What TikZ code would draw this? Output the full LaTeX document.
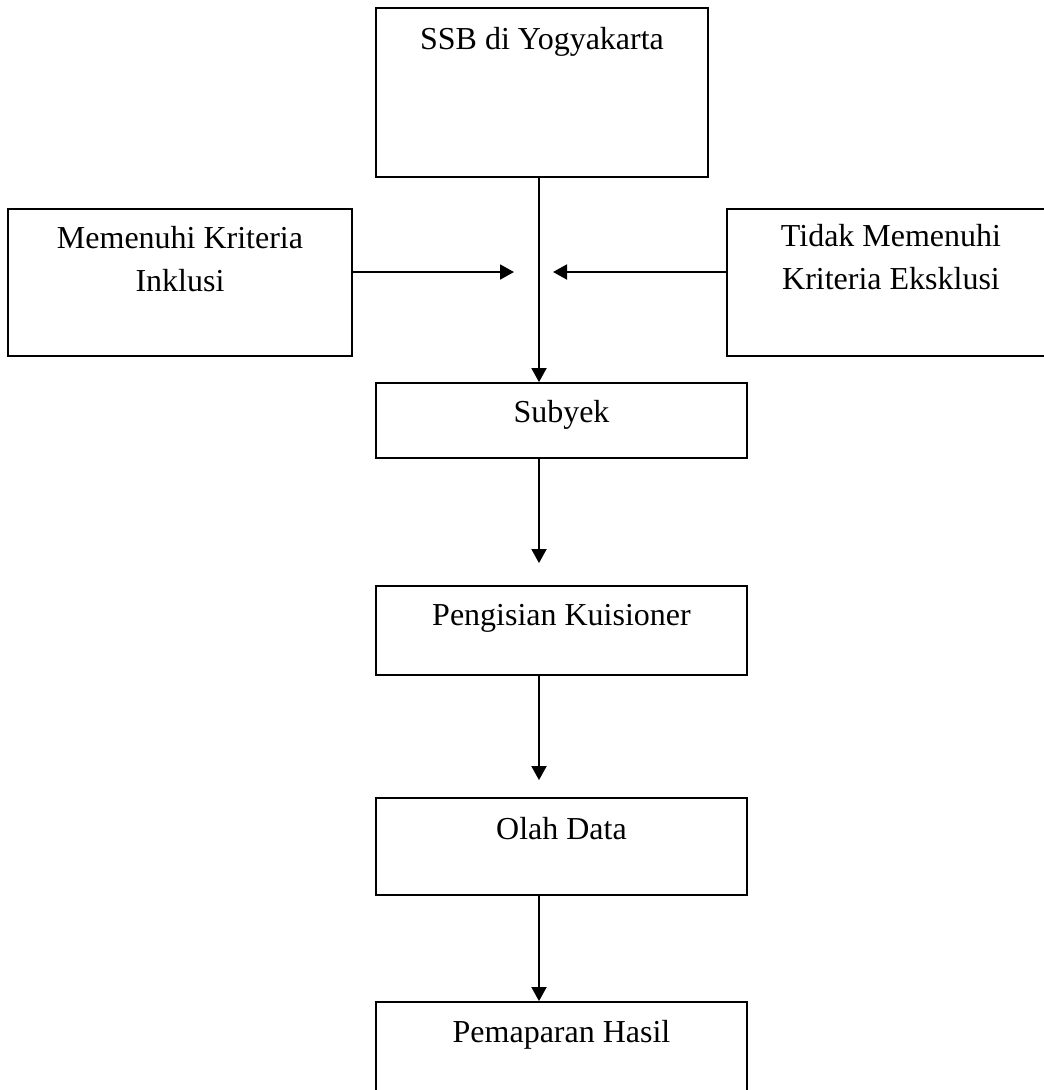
\documentclass[tikz,border=0pt]{standalone}
\usepackage{fontspec}
\setmainfont{Liberation Serif}
\usetikzlibrary{
  arrows.meta,
  calc,
  positioning,
}
\tikzset{
  >={Triangle[length=0.42cm,width=0.45cm]},
  box/.style={draw, rectangle, inner sep=0pt, line width=1.6pt},
  txt/.style={font=\fontsize{27.3pt}{36.7pt}\selectfont, align=center, inner sep=0pt, anchor=base},
}
\begin{document}
\begin{tikzpicture}[x=0.03cm, y=-0.03cm, line width=1.6pt]
      \useasboundingbox (0,0) rectangle (1044,1090);
      \node[box, minimum width=9.96cm,  minimum height=5.07cm] (ssb)       at (542,92.5)   {};
      \node[box, minimum width=10.32cm, minimum height=4.41cm] (inklusi)   at (180,282.5)  {};
      \node[box, minimum width=9.84cm,  minimum height=4.41cm] (eksklusi)  at (891,282.5)  {};
      \node[box, minimum width=11.13cm, minimum height=2.25cm] (subyek)    at (561.5,420.5) {};
      \node[box, minimum width=11.13cm, minimum height=2.67cm] (kuisioner) at (561.5,630.5) {};
      \node[box, minimum width=11.13cm, minimum height=2.91cm] (olah)      at (561.5,846.5) {};
      \node[box, minimum width=11.13cm, minimum height=3cm]    (hasil)     at (561.5,1052)  {};

      \node[txt] (ssb text)       at ([yshift=-1.26cm]ssb.north)       {SSB di Yogyakarta};
      \node[txt] (inklusi text)   at ([yshift=-2.49cm]inklusi.north)   {Memenuhi Kriteria\\Inklusi};
      \node[txt] (eksklusi text)  at ([yshift=-2.43cm]eksklusi.north)  {Tidak Memenuhi\\Kriteria Eksklusi};
      \node[txt] (subyek text)    at ([yshift=-1.2cm]subyek.north)     {Subyek};
      \node[txt] (kuisioner text) at ([yshift=-1.2cm]kuisioner.north)  {Pengisian Kuisioner};
      \node[txt] (olah text)      at ([yshift=-1.26cm]olah.north)      {Olah Data};
      \node[txt] (hasil text)     at ([yshift=-1.23cm]hasil.north)     {Pemaparan Hasil};

      \coordinate (X) at (539,272);
      \draw[->] (ssb.south -| X) -- (subyek.north -| X);
      \draw[->, shorten >=0.75cm] (inklusi.east |- X) -- (X);
      \draw[->, shorten >=0.42cm] (eksklusi.west |- X) -- (X);
      \foreach \a/\b/\s in {
        subyek/kuisioner/0.66cm,
        kuisioner/olah/0.51cm,
        olah/hasil/0pt
      } {
        \draw[->, shorten >=\s] (\a.south -| X) -- (\b.north -| X);
      }
    \end{tikzpicture}
\end{document}
